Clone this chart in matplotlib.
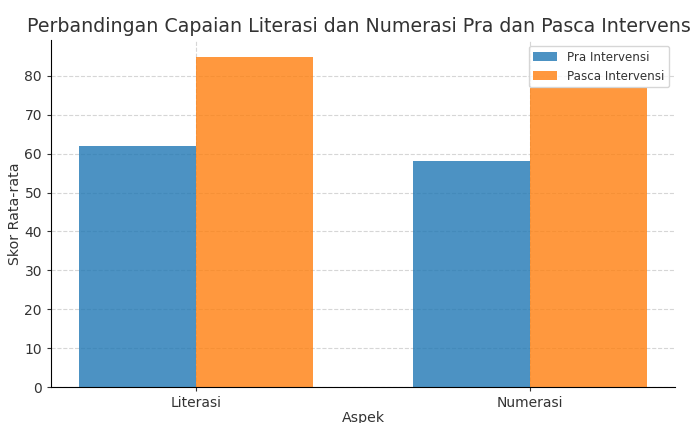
import matplotlib.pyplot as plt
import numpy as np

aspek = ['Literasi', 'Numerasi']
pra = [62, 58]
pasca = [85, 77]

plt.rcParams['text.color'] = '#333333'
plt.rcParams['axes.labelcolor'] = '#333333'
plt.rcParams['xtick.color'] = '#333333'
plt.rcParams['ytick.color'] = '#333333'

fig = plt.figure(figsize=(6.9, 4.23), dpi=100)
ax = fig.add_axes([51/690, 1-387/423, (675-51)/690, (387-40)/423])

x = np.arange(len(aspek))
w = 0.35
ax.bar(x - w/2, pra, w, label='Pra Intervensi', color='#1f77b4', alpha=0.8)
ax.bar(x + w/2, pasca, w, label='Pasca Intervensi', color='#ff7f0e', alpha=0.8)

ax.set_xticks(x)
ax.set_xticklabels(aspek, fontsize=10)
ax.tick_params(axis='y', labelsize=10)
ax.tick_params(length=3)
ax.set_xlabel('Aspek', fontsize=10.2, labelpad=1)
ax.set_ylabel('Skor Rata-rata', fontsize=10.2, labelpad=2)
ax.set_title('Perbandingan Capaian Literasi dan Numerasi Pra dan Pasca Intervensi',
             fontsize=13.7, x=0.497)
ax.grid(True, linestyle='--', color='#cccccc', alpha=0.8)
ax.set_axisbelow(True)
ax.spines['top'].set_visible(False)
ax.spines['right'].set_visible(False)
ax.legend(loc='upper right', fontsize=8.6)

fig.savefig('out.png', dpi=100)
